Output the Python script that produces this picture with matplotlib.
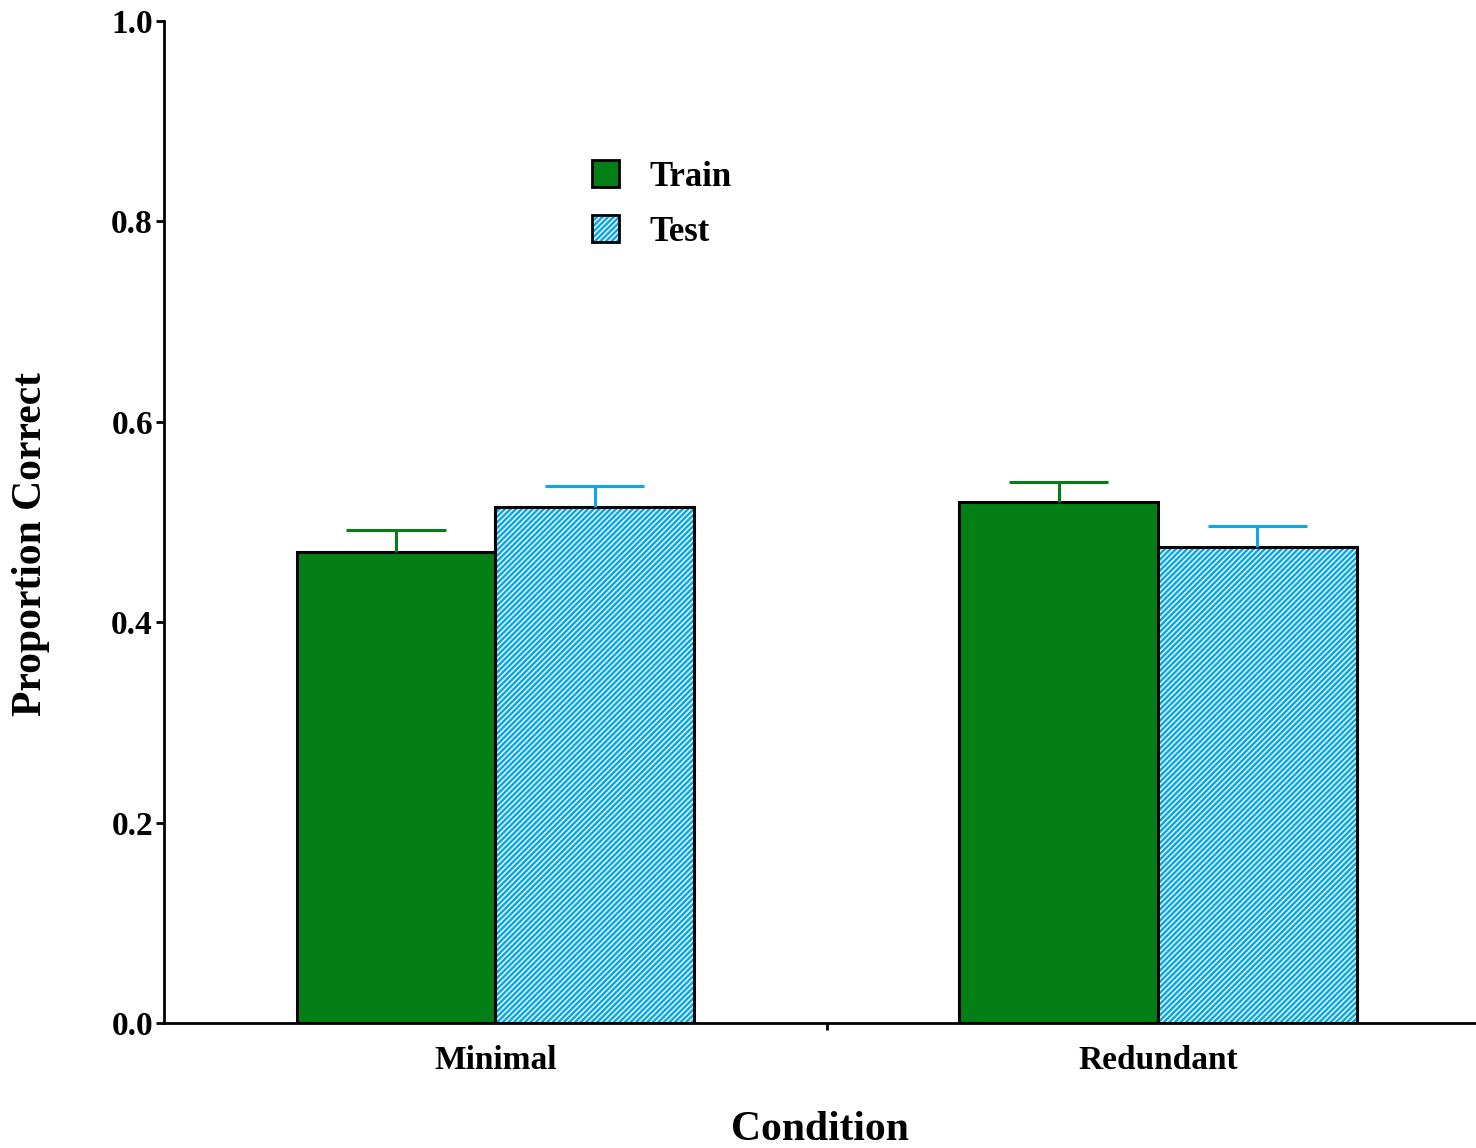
import numpy as np
import matplotlib
matplotlib.use("Agg")
import matplotlib.pyplot as plt
from matplotlib.patches import Patch

# ---------- Data ----------
conditions = ["Minimal", "Redundant"]
train_mean = [0.470, 0.520]
train_err = [0.022, 0.020]
test_mean = [0.515, 0.475]
test_err = [0.021, 0.021]

green = "#037f16"
blue = "#0aa9e6"

plt.rcParams["font.family"] = ["Liberation Serif", "DejaVu Serif"]
plt.rcParams["font.weight"] = "bold"
plt.rcParams["hatch.linewidth"] = 1.0

fig = plt.figure(figsize=(14.76, 11.48), dpi=100)
ax = fig.add_axes([164 / 1476, 1 - 1023 / 1148, 1 - 164 / 1476, (1023 - 21) / 1148])

x = np.arange(len(conditions))
w = 0.3
cap = 0.075

ax.bar(x - w / 2, train_mean, w, color=green, edgecolor="black", linewidth=2.2, zorder=2)
ax.bar(x + w / 2, test_mean, w, color=blue, hatch="//////", edgecolor="white", linewidth=0, zorder=2)
# black outline over the hatched bars
ax.bar(x + w / 2, test_mean, w, fill=False, edgecolor="black", linewidth=2.2, zorder=3)

# upper-only error bars
for xs, m, e, c in [(x - w / 2, train_mean, train_err, green), (x + w / 2, test_mean, test_err, blue)]:
    top = np.array(m) + np.array(e)
    ax.vlines(xs, m, top, color=c, linewidth=2.2, zorder=4)
    ax.hlines(top, xs - cap, xs + cap, color=c, linewidth=2.2, zorder=4)

# legend handles
h_train = Patch(facecolor=green, edgecolor="black", linewidth=2)
h_test = (Patch(facecolor=blue, hatch="//////", edgecolor="white", linewidth=0),
          Patch(fill=False, edgecolor="black", linewidth=2))
ax.legend([h_train, h_test], ["Train", "Test"], loc="upper left", bbox_to_anchor=(0.326, 0.861),
          frameon=False, fontsize=25, handlelength=0.8, handleheight=0.8, handletextpad=0.85,
          labelspacing=0.62, borderpad=0, borderaxespad=0)

ax.set_xlim(-0.5, 1.48)
ax.set_ylim(0, 1.0)
ax.set_yticks([0, 0.2, 0.4, 0.6, 0.8, 1.0])
ax.set_yticklabels(["0.0", "0.2", "0.4", "0.6", "0.8", "1.0"])
ax.set_xticks(x)
ax.set_xticklabels(conditions)
ax.set_xticks([0.5], minor=True)
ax.tick_params(axis="x", which="major", length=0, labelsize=24, pad=16)
ax.tick_params(axis="x", which="minor", length=5, width=2, direction="out")
ax.tick_params(axis="y", length=6, width=2, labelsize=24, pad=2)

for s in ["top", "right"]:
    ax.spines[s].set_visible(False)
for s in ["left", "bottom"]:
    ax.spines[s].set_linewidth(2)

ax.set_xlabel("Condition", fontsize=30, fontweight="bold", labelpad=25)
ax.set_ylabel("Proportion Correct", fontsize=30, fontweight="bold")
ax.yaxis.set_label_coords(-0.087, 0.478)

fig.savefig("out.png", dpi=100)
